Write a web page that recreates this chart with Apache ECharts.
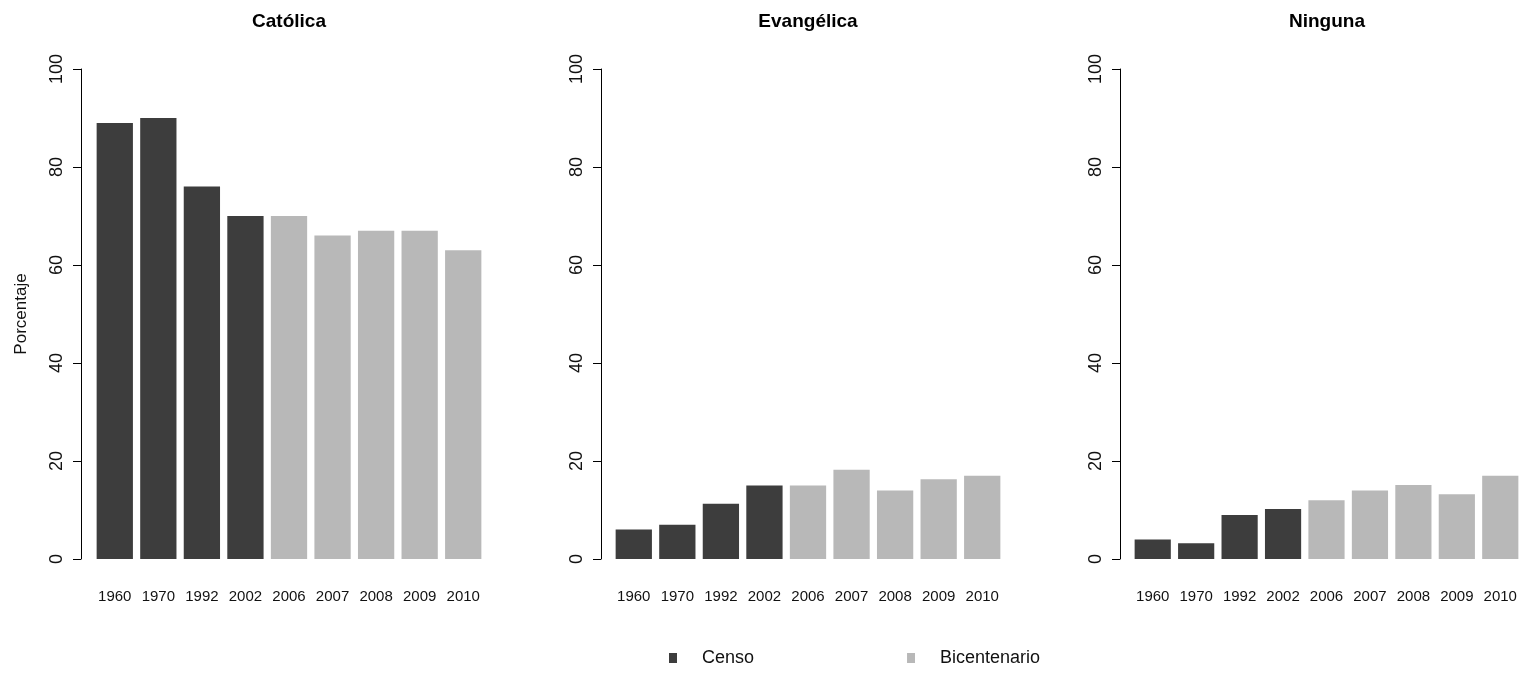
<!DOCTYPE html>
<html>
<head>
<meta charset="utf-8">
<script src="https://cdn.jsdelivr.net/npm/echarts@6/dist/echarts.min.js"></script>
<style>
html,body{margin:0;padding:0;background:#fff;}
#chart{width:1522px;height:675px;}
</style>
</head>
<body>
<div id="chart"></div>
<script>
// ---- data ----
var years = ['1960','1970','1992','2002','2006','2007','2008','2009','2010'];
var sources = ['Censo','Censo','Censo','Censo','Bicentenario','Bicentenario','Bicentenario','Bicentenario','Bicentenario'];
var panelTitles = ['Católica','Evangélica','Ninguna'];
var catolica   = [89, 90, 76, 70, 70, 66, 67, 67, 63];
var evangelica = [6, 7, 11.3, 15, 15, 18.2, 14, 16.3, 17];
var ninguna    = [4, 3.2, 9, 10.2, 12, 14, 15.1, 13.2, 17];
var yTicks = [0, 20, 40, 60, 80, 100];
var seriesNames = ['Censo','Bicentenario'];
var colors = {Censo:'#3d3d3d', Bicentenario:'#b8b8b8'};
var panelValues = [catolica, evangelica, ninguna];

// ---- layout ----
var gridLefts = [93, 612, 1131];
var axisOffsets = [12, 11, 11];
var gridWidth = 392;
var gridTop = 69, gridHeight = 490;
var font = "'Liberation Sans',Arial,sans-serif";

var grids = [], xAxes = [], yAxes = [], series = [], titles = [];
panelValues.forEach(function(vals, p){
  grids.push({left: gridLefts[p], top: gridTop, width: gridWidth, height: gridHeight, containLabel: false});
  titles.push({
    text: panelTitles[p], left: gridLefts[p] + gridWidth/2, top: 12, padding: 0, textAlign: 'center',
    textStyle: {fontFamily: font, fontWeight: 'bold', fontSize: 19, color: '#000'}
  });
  xAxes.push({
    type: 'category', gridIndex: p, data: years,
    axisLine: {show: false}, axisTick: {show: false},
    axisLabel: {interval: 0, margin: 30, fontFamily: font, fontSize: 15, color: '#111'}
  });
  yAxes.push({
    type: 'value', gridIndex: p, min: yTicks[0], max: yTicks[yTicks.length-1], interval: 20,
    offset: axisOffsets[p],
    name: p === 0 ? 'Porcentaje' : '', nameLocation: 'middle', nameRotate: 90, nameGap: 51,
    nameTextStyle: {fontFamily: font, fontSize: 17, color: '#111'},
    axisLine: {show: true, lineStyle: {color: '#000', width: 1}},
    axisTick: {show: true, length: 8, lineStyle: {color: '#000', width: 1}},
    axisLabel: {rotate: 90, margin: 15, fontFamily: font, fontSize: 18, color: '#111'},
    splitLine: {show: false}
  });
  seriesNames.forEach(function(sn){
    series.push({
      name: sn, type: 'bar', xAxisIndex: p, yAxisIndex: p, stack: 'panel' + p,
      barWidth: '83.3%',
      itemStyle: {color: colors[sn]},
      data: vals.map(function(v, i){ return sources[i] === sn ? v : null; })
    });
  });
});

var chart = echarts.init(document.getElementById('chart'));
chart.setOption({
  backgroundColor: '#fff',
  animation: false,
  title: titles,
  grid: grids,
  xAxis: xAxes,
  yAxis: yAxes,
  legend: {
    data: seriesNames, left: 669, top: 649, icon: 'rect', itemWidth: 8, itemHeight: 10,
    itemGap: 153, padding: 0,
    textStyle: {fontFamily: font, fontSize: 18, color: '#111', padding: [0,0,0,20]}
  },
  series: series
});
</script>
</body>
</html>
